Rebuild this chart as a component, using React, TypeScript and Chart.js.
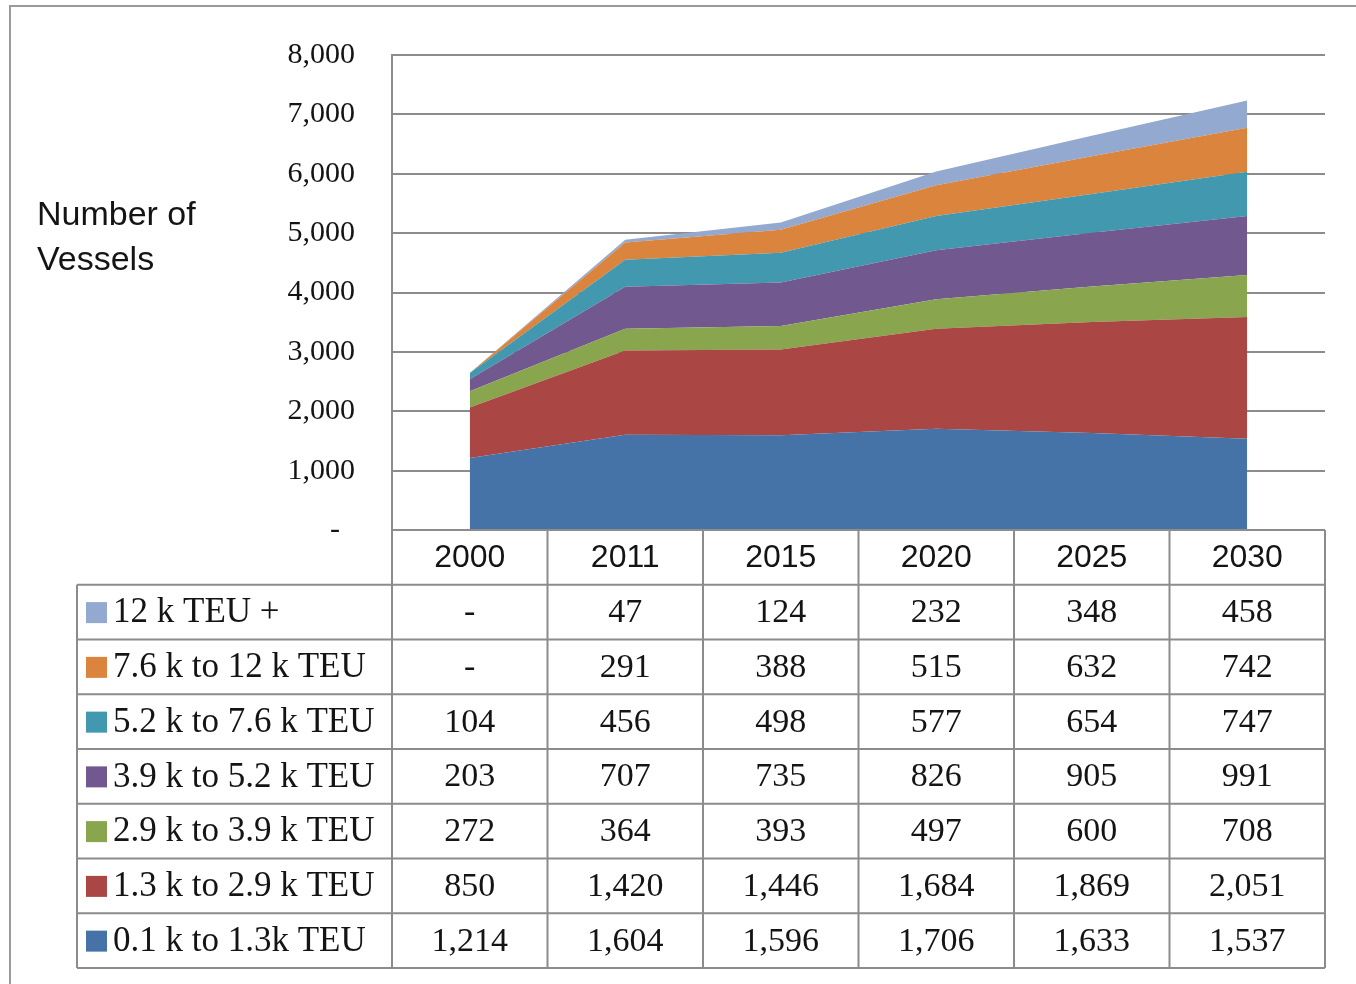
import React, { useEffect, useRef } from 'react';
import { Chart, registerables } from 'chart.js';

Chart.register(...registerables);

const years = ['2000', '2011', '2015', '2020', '2025', '2030'];
const seriesNames = [
  '0.1 k to 1.3k TEU',
  '1.3 k to 2.9 k TEU',
  '2.9 k to 3.9 k TEU',
  '3.9 k to 5.2 k TEU',
  '5.2 k to 7.6 k TEU',
  '7.6 k to 12 k TEU',
  '12 k TEU +',
];
const teu01to13 = [1214, 1604, 1596, 1706, 1633, 1537];
const teu13to29 = [850, 1420, 1446, 1684, 1869, 2051];
const teu29to39 = [272, 364, 393, 497, 600, 708];
const teu39to52 = [203, 707, 735, 826, 905, 991];
const teu52to76 = [104, 456, 498, 577, 654, 747];
const teu76to12 = [0, 291, 388, 515, 632, 742];
const teu12plus = [0, 47, 124, 232, 348, 458];
const seriesValues = [teu01to13, teu13to29, teu29to39, teu39to52, teu52to76, teu76to12, teu12plus];
const seriesColors = ['#4572A7', '#AA4643', '#89A54E', '#71588F', '#4198AF', '#DB843D', '#93A9CF'];
const yTickValues = [0, 1000, 2000, 3000, 4000, 5000, 6000, 7000, 8000];
const yTitleLines = ['Number of', 'Vessels'];

const GRID = '#8c8c8c';
const TEXT = '#141414';
const SERIF = '"Liberation Serif", "Times New Roman", serif';
const SANS = '"Liberation Sans", Arial, sans-serif';

const fmt = (v: number) => (v === 0 ? '-' : v.toLocaleString('en-US'));

const decorPlugin = {
  id: 'decor',
  beforeDraw(chart: any) {
    const ctx = chart.ctx;
    ctx.save();
    ctx.fillStyle = '#ffffff';
    ctx.fillRect(0, 0, chart.width, chart.height);
    ctx.strokeStyle = '#9a9a9a';
    ctx.lineWidth = 2;
    ctx.beginPath();
    ctx.moveTo(10, chart.height + 10);
    ctx.lineTo(10, 6);
    ctx.lineTo(chart.width + 10, 6);
    ctx.stroke();
    ctx.fillStyle = TEXT;
    ctx.font = `34px ${SANS}`;
    ctx.textAlign = 'left';
    ctx.textBaseline = 'middle';
    ctx.fillText(yTitleLines[0], 37, 216);
    ctx.fillText(yTitleLines[1], 37, 261);
    ctx.restore();
  },
  afterDraw(chart: any) {
    const ctx = chart.ctx;
    const area = chart.chartArea;
    const xs = chart.scales.x;
    const n = years.length;
    const colW = (area.right - area.left) / n;
    const top = area.bottom;
    const rowH = 54.75;
    const nRows = seriesNames.length;
    const legendLeft = 77;
    const bottom = top + rowH * (nRows + 1);
    ctx.save();
    ctx.strokeStyle = GRID;
    ctx.lineWidth = 2;
    ctx.beginPath();
    for (let r = 0; r <= nRows + 1; r++) {
      const y = top + r * rowH;
      const x0 = r === 0 ? area.left : legendLeft;
      ctx.moveTo(x0, y);
      ctx.lineTo(area.right, y);
    }
    for (let c = 0; c <= n; c++) {
      const x = area.left + c * colW;
      ctx.moveTo(x, top);
      ctx.lineTo(x, bottom);
    }
    ctx.moveTo(legendLeft, top + rowH);
    ctx.lineTo(legendLeft, bottom);
    ctx.stroke();

    ctx.fillStyle = TEXT;
    ctx.textBaseline = 'middle';
    ctx.textAlign = 'center';
    ctx.font = `32px ${SANS}`;
    years.forEach((yr, i) => {
      ctx.fillText(yr, xs.getPixelForValue(i), top + rowH / 2 + 1);
    });

    for (let r = 0; r < nRows; r++) {
      const si = nRows - 1 - r;
      const cy = top + rowH * (r + 1) + rowH / 2 + 1;
      ctx.fillStyle = seriesColors[si];
      ctx.fillRect(86, cy - 11, 21, 21);
      ctx.fillStyle = TEXT;
      ctx.textAlign = 'left';
      ctx.font = `35px ${SERIF}`;
      ctx.fillText(seriesNames[si], 113, cy);
      ctx.textAlign = 'center';
      ctx.font = `34px ${SERIF}`;
      seriesValues[si].forEach((v, i) => {
        ctx.fillText(fmt(v), xs.getPixelForValue(i), cy);
      });
    }
    ctx.restore();
  },
};

export default function App() {
  const ref = useRef<HTMLCanvasElement | null>(null);
  useEffect(() => {
    if (!ref.current) return;
    const chart = new Chart(ref.current, {
      type: 'line',
      data: {
        labels: years,
        datasets: seriesNames.map((name, i) => ({
          label: name,
          data: seriesValues[i],
          backgroundColor: seriesColors[i],
          borderColor: seriesColors[i],
          borderWidth: 0,
          pointRadius: 0,
          fill: i === 0 ? 'origin' : '-1',
          tension: 0,
        })),
      },
      options: {
        animation: false,
        responsive: false,
        maintainAspectRatio: false,
        layout: { padding: { left: 0, right: 31, top: 50, bottom: 984 - 530 } },
        plugins: { legend: { display: false }, tooltip: { enabled: false } },
        scales: {
          x: { type: 'category', offset: true, display: false },
          y: {
            stacked: true,
            min: 0,
            max: 8000,
            afterFit(scale: any) {
              scale.width = 392;
            },
            afterBuildTicks(scale: any) {
              scale.ticks = yTickValues.map((v) => ({ value: v }));
            },
            ticks: {
              padding: 37,
              color: TEXT,
              font: { family: SERIF, size: 30 },
              callback: (v: any) => (Number(v) === 0 ? '-  ' : fmt(Number(v))),
            },
            grid: { color: GRID, lineWidth: 2, drawTicks: false },
            border: { color: GRID, width: 2 },
          },
        },
      },
      plugins: [decorPlugin],
    });
    return () => chart.destroy();
  }, []);
  return (
    <div style={{ position: 'absolute', left: 0, top: 0, width: 1356, height: 984, background: '#fff' }}>
      <canvas ref={ref} width={1356} height={984} style={{ width: 1356, height: 984, display: 'block' }} />
    </div>
  );
}
